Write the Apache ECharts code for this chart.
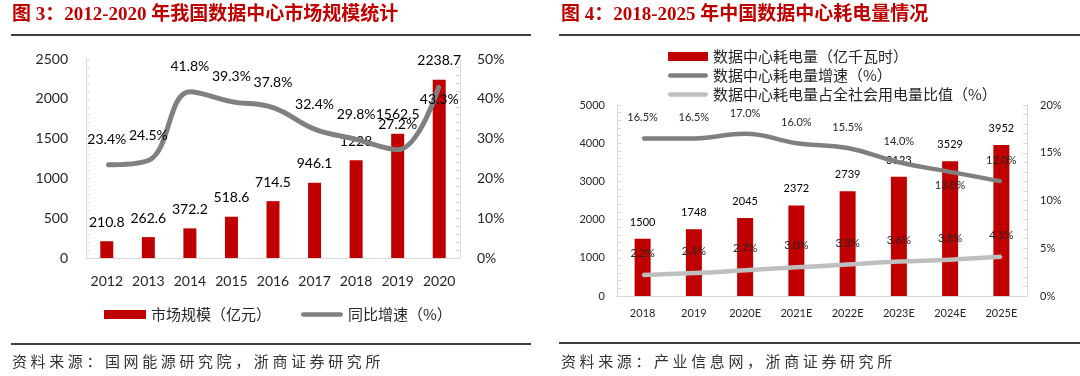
<!DOCTYPE html>
<html>
<head>
<meta charset="utf-8">
<script src="https://cdn.jsdelivr.net/npm/echarts@6/dist/echarts.min.js"></script>
<style>
  html, body { margin: 0; padding: 0; background: #fff; }
  #main { width: 1080px; height: 376px; }
</style>
</head>
<body>
<div id="main"></div>
<script>
// 图3 数据
const marketYears = ['2012', '2013', '2014', '2015', '2016', '2017', '2018', '2019', '2020']
const marketSize = [210.8, 262.6, 372.2, 518.6, 714.5, 946.1, 1228, 1562.5, 2238.7]
const marketGrowth = [23.4, 24.5, 41.8, 39.3, 37.8, 32.4, 29.8, 27.2, 43.3]

// 图4 数据
const powerYears = ['2018', '2019', '2020E', '2021E', '2022E', '2023E', '2024E', '2025E']
const powerUse = [1500, 1748, 2045, 2372, 2739, 3123, 3529, 3952]
const powerGrowth = [16.5, 16.5, 17.0, 16.0, 15.5, 14.0, 13.0, 12.0]
const powerShare = [2.2, 2.4, 2.7, 3.0, 3.3, 3.6, 3.8, 4.1]

const numFont = 'Lato, "Noto Sans CJK SC", sans-serif'
const cjkFont = '"Noto Sans CJK SC", sans-serif'
const titleFont = 'bold 19px "Liberation Serif", "Noto Sans CJK SC", serif'
const red = '#c00000'
const axisGray = '#d9d9d9'
// 图例里的线条图标
const lineIcon = 'path://M2.5,0H42.5A2.5,2.5,0,0,1,42.5,5H2.5A2.5,2.5,0,0,1,2.5,0Z'

let chart = echarts.init(document.getElementById('main'))

// 坐标轴公共样式
function valueAxis(gridIndex, opts) {
    return Object.assign({
        type: 'value',
        gridIndex: gridIndex,
        min: 0,
        splitLine: {show: false},
        axisLine: {show: true, lineStyle: {color: axisGray, width: 1}},
        axisTick: {show: true, inside: true, length: 4, lineStyle: {color: axisGray}},
        minorTick: {show: true, splitNumber: 5, length: 4, lineStyle: {color: axisGray}}
    }, opts)
}

function axisText(size, margin, suffix) {
    return {
        color: '#262626', fontFamily: numFont, fontSize: size, margin: margin,
        formatter: v => String(v) + (suffix || '')
    }
}

function pctLabels(values, below, dist) {
    return values.map((v, i) => {
        if (below.indexOf(i) >= 0) {
            return {value: v, label: {position: 'bottom', distance: dist}}
        }
        return v
    })
}

// 资料来源：宋体字距较宽，逐字排开
function sourceText(str, x0, y) {
    return {
        type: 'group',
        children: str.split('').map((c, i) => ({
            type: 'text', x: x0 + i * 18.6, y: y,
            style: {text: c, font: '15px "Noto Sans CJK SC", sans-serif', fill: '#333',
                textVerticalAlign: 'middle'}
        }))
    }
}

chart.setOption({
    animation: false,
    grid: [
        {left: 86, right: 620, top: 59, bottom: 118},
        {left: 617, right: 53, top: 105, bottom: 80}
    ],
    legend: [
        {
            left: 99, top: 302,
            itemWidth: 42, itemHeight: 9, itemGap: 30,
            textStyle: {fontFamily: cjkFont, fontSize: 15, color: '#262626'},
            data: [
                {name: '市场规模（亿元）', icon: 'rect'},
                {name: '同比增速（%）', icon: lineIcon}
            ]
        },
        {
            orient: 'vertical', left: 663, top: 44,
            itemWidth: 40, itemHeight: 9, itemGap: 4,
            textStyle: {fontFamily: cjkFont, fontSize: 15, color: '#262626'},
            data: [
                {name: '数据中心耗电量（亿千瓦时）', icon: 'rect'},
                {name: '数据中心耗电量增速（%）', icon: lineIcon},
                {name: '数据中心耗电量占全社会用电量比值（%）', icon: lineIcon}
            ]
        }
    ],
    xAxis: [
        {
            type: 'category', gridIndex: 0, data: marketYears,
            axisLine: {lineStyle: {color: axisGray}},
            axisTick: {show: false},
            axisLabel: {color: '#262626', fontFamily: numFont, fontSize: 14, margin: 16, interval: 0}
        },
        {
            type: 'category', gridIndex: 1, data: powerYears,
            axisLine: {lineStyle: {color: axisGray}},
            axisTick: {show: false},
            axisLabel: {color: '#262626', fontFamily: numFont, fontSize: 11, margin: 12, interval: 0}
        }
    ],
    yAxis: [
        valueAxis(0, {max: 2500, interval: 500, axisLabel: axisText(14, 18)}),
        valueAxis(0, {max: 50, interval: 10, position: 'right', axisLabel: axisText(14, 17, '%')}),
        valueAxis(1, {max: 5000, interval: 1000, axisLabel: axisText(11, 12)}),
        valueAxis(1, {max: 20, interval: 5, position: 'right', axisLabel: axisText(11, 13, '%')})
    ],
    series: [
        {
            name: '市场规模（亿元）', type: 'bar',
            xAxisIndex: 0, yAxisIndex: 0,
            data: marketSize, barWidth: 13,
            itemStyle: {color: red},
            label: {show: true, position: 'top', distance: 12, color: '#000',
                fontFamily: numFont, fontSize: 14}
        },
        {
            name: '同比增速（%）', type: 'line',
            xAxisIndex: 0, yAxisIndex: 1,
            data: pctLabels(marketGrowth, [8], 6),
            smooth: 0.4, symbol: 'circle', symbolSize: 2,
            lineStyle: {color: '#808080', width: 5},
            itemStyle: {color: '#808080'},
            z: 3,
            label: {show: true, position: 'top', distance: 17, color: '#000',
                fontFamily: numFont, fontSize: 14,
                formatter: p => p.value.toFixed(1) + '%'}
        },
        {
            name: '数据中心耗电量（亿千瓦时）', type: 'bar',
            xAxisIndex: 1, yAxisIndex: 2,
            data: powerUse, barWidth: 16,
            itemStyle: {color: red},
            label: {show: true, position: 'top', distance: 11, color: '#000',
                fontFamily: numFont, fontSize: 11}
        },
        {
            name: '数据中心耗电量增速（%）', type: 'line',
            xAxisIndex: 1, yAxisIndex: 3,
            data: pctLabels(powerGrowth, [6], 7),
            smooth: 0.45, symbol: 'circle', symbolSize: 2,
            lineStyle: {color: '#7f7f7f', width: 4.5},
            itemStyle: {color: '#7f7f7f'},
            z: 3,
            label: {show: true, position: 'top', distance: 14, color: '#262626',
                fontFamily: numFont, fontSize: 11,
                formatter: p => p.value.toFixed(1) + '%'}
        },
        {
            name: '数据中心耗电量占全社会用电量比值（%）', type: 'line',
            xAxisIndex: 1, yAxisIndex: 3,
            data: powerShare,
            smooth: 0.45, symbol: 'circle', symbolSize: 2,
            lineStyle: {color: '#bfbfbf', width: 4.5},
            itemStyle: {color: '#bfbfbf'},
            z: 3,
            label: {show: true, position: 'top', distance: 15, color: '#262626',
                fontFamily: numFont, fontSize: 11,
                formatter: p => p.value.toFixed(1) + '%'}
        }
    ],
    graphic: [
        {type: 'text', left: 12, top: 6,
            style: {text: '图 3：2012-2020 年我国数据中心市场规模统计', font: titleFont, fill: red}},
        {type: 'line', shape: {x1: 11, y1: 35, x2: 531, y2: 35}, style: {stroke: '#000', lineWidth: 1.5}},
        {type: 'line', shape: {x1: 11, y1: 344, x2: 531, y2: 344}, style: {stroke: '#000', lineWidth: 1.5}},
        sourceText('资料来源：国网能源研究院，浙商证券研究所', 12, 361),
        {type: 'text', left: 561, top: 6,
            style: {text: '图 4：2018-2025 年中国数据中心耗电量情况', font: titleFont, fill: red}},
        {type: 'line', shape: {x1: 559, y1: 35, x2: 1080, y2: 35}, style: {stroke: '#000', lineWidth: 1.5}},
        {type: 'line', shape: {x1: 559, y1: 343, x2: 1080, y2: 343}, style: {stroke: '#000', lineWidth: 1.5}},
        sourceText('资料来源：产业信息网，浙商证券研究所', 561, 361)
    ]
})
</script>
</body>
</html>
